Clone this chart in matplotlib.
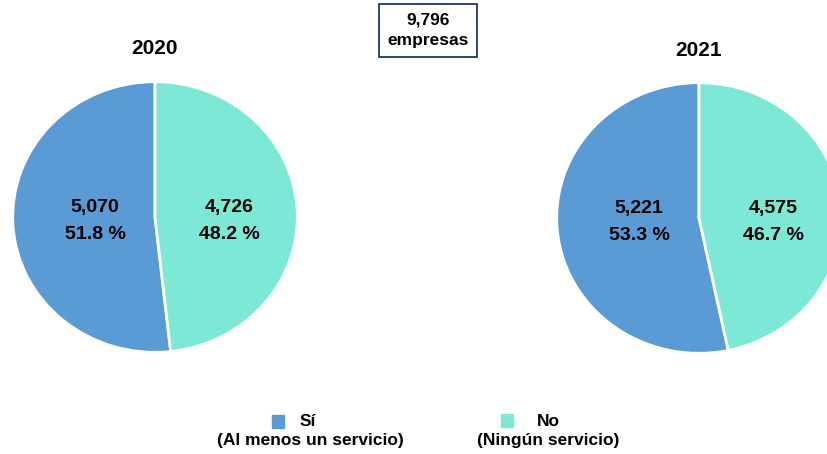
import matplotlib.pyplot as plt
from matplotlib.patches import Rectangle

# --- data ---
years = ["2020", "2021"]
si_values = [5070, 5221]
no_values = [4726, 4575]
si_pct = [51.8, 53.3]
no_pct = [48.2, 46.7]
total_label = "9,796\nempresas"
legend_main = ["Sí", "No"]
legend_sub = ["(Al menos un servicio)", "(Ningún servicio)"]

colors = ["#5B9BD5", "#7DE8D6"]

W, H = 828, 454
fig = plt.figure(figsize=(W / 100, H / 100), dpi=100)
plt.rcParams['font.family'] = ['Liberation Sans', 'DejaVu Sans']

# pie centres and radii in pixels (from top-left); slightly stretched horizontally
centers = [(155, 217), (699, 218)]
rx, ry = 143, 136
title_y = [48, 50]

for i, year in enumerate(years):
    cx, cy = centers[i]
    ax = fig.add_axes([(cx - rx) / W, (H - cy - ry) / H, 2 * rx / W, 2 * ry / H])
    ax.pie([si_values[i], no_values[i]], colors=colors, startangle=90,
           counterclock=True, radius=1.0,
           wedgeprops=dict(edgecolor="white", linewidth=2))
    ax.set_aspect("auto")
    ax.set_xlim(-1.005, 1.005)
    ax.set_ylim(-1.005, 1.005)
    ax.text(-0.42, -0.03, f"{si_values[i]:,}\n{si_pct[i]} %", ha="center", va="center",
            fontsize=14, fontweight="bold", linespacing=1.75)
    ax.text(0.52, -0.03, f"{no_values[i]:,}\n{no_pct[i]} %", ha="center", va="center",
            fontsize=14, fontweight="bold", linespacing=1.75)
    fig.text(cx / W, 1 - title_y[i] / H, year, ha="center", va="center",
             fontsize=15, fontweight="bold")

# total box
fig.text(428 / W, 1 - 30 / H, total_label, ha="center", va="center",
         fontsize=12.5, fontweight="bold", linespacing=1.45)
fig.patches.append(Rectangle((379 / W, 1 - 57 / H), 98 / W, 53 / H,
                             transform=fig.transFigure, fill=False,
                             edgecolor="#1F3864", linewidth=1.3))

# legend
sq = [(272, 415), (501, 414)]
main_x = [308, 548]
sub_x = [310, 548]
for i in range(2):
    x0, y0 = sq[i]
    fig.patches.append(Rectangle((x0 / W, 1 - (y0 + 13) / H), 12 / W, 13 / H,
                                 transform=fig.transFigure, color=colors[i]))
    fig.text(main_x[i] / W, 1 - 421 / H, legend_main[i], ha="center", va="center",
             fontsize=12.5, fontweight="bold")
    fig.text(sub_x[i] / W, 1 - 441 / H, legend_sub[i], ha="center", va="center",
             fontsize=12.5, fontweight="bold")

fig.savefig("out.png", dpi=100)
